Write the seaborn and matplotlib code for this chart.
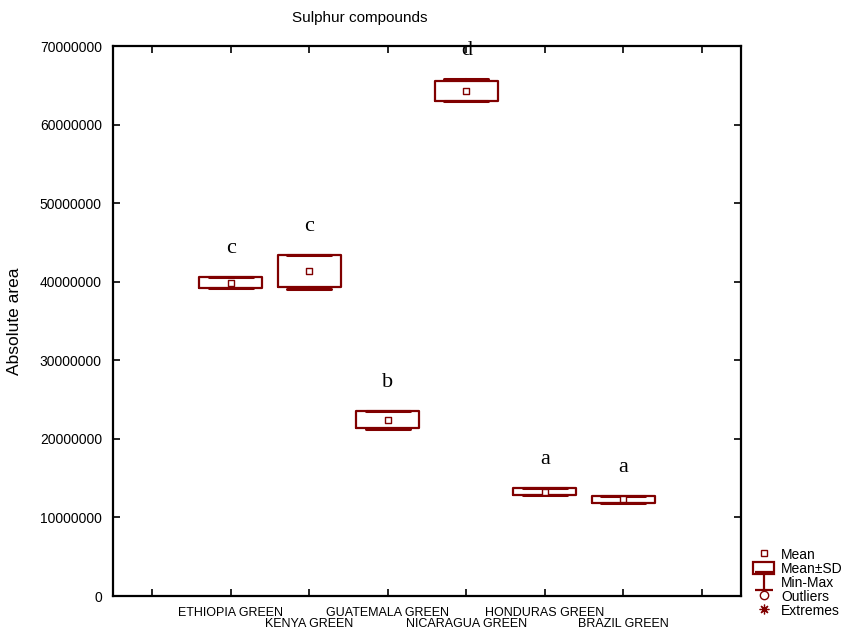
import matplotlib
matplotlib.use("Agg")
import matplotlib.pyplot as plt
import seaborn as sns
import pandas as pd
import numpy as np
from matplotlib.path import Path
from matplotlib.lines import Line2D
from matplotlib.patches import Patch
from matplotlib.ticker import FixedLocator, FixedFormatter, StrMethodFormatter

categories = ["ETHIOPIA GREEN", "KENYA GREEN", "GUATEMALA GREEN",
              "NICARAGUA GREEN", "HONDURAS GREEN", "BRAZIL GREEN"]
means = [39.85e6, 41.35e6, 22.45e6, 64.25e6, 13.28e6, 12.3e6]
sds = [0.70e6, 2.05e6, 1.05e6, 1.25e6, 0.42e6, 0.40e6]
mins = [39.15e6, 39.05e6, 21.25e6, 63.0e6, 12.86e6, 11.9e6]
maxs = [40.55e6, 43.4e6, 23.5e6, 65.8e6, 13.7e6, 12.7e6]
letters = ["c", "c", "b", "d", "a", "a"]
yticks = [0, 10e6, 20e6, 30e6, 40e6, 50e6, 60e6, 70e6]

RED = "#800000"

sns.set_style("ticks")
plt.rcParams["font.family"] = ["Liberation Sans", "DejaVu Sans"]
plt.rcParams["text.color"] = "black"
plt.rcParams["xtick.color"] = "black"
plt.rcParams["ytick.color"] = "black"
plt.rcParams["axes.labelcolor"] = "black"

fig = plt.figure(figsize=(8.42, 6.29), dpi=100)
ax = fig.add_axes([113/842, 33/629, (741-113)/842, (596-46)/629])

positions = list(range(1, len(categories) + 1))
stats = []
for m, s, lo, hi in zip(means, sds, mins, maxs):
    stats.append(dict(med=m, q1=m - s, q3=m + s, whislo=lo, whishi=hi, fliers=[]))

ax.bxp(stats, positions=positions, widths=0.8, capwidths=0.56,
       showfliers=False, patch_artist=False,
       boxprops=dict(color=RED, linewidth=1.6),
       whiskerprops=dict(color=RED, linewidth=1.6),
       capprops=dict(color=RED, linewidth=2.2),
       medianprops=dict(linewidth=0))

df = pd.DataFrame({"pos": positions, "mean": means})
sns.scatterplot(data=df, x="pos", y="mean", marker="s", s=14,
                facecolor="white", edgecolor=RED, linewidth=1.0, ax=ax, zorder=5)

for p, m, s, hi, lab in zip(positions, means, sds, maxs, letters):
    top = max(m + s, hi)
    ax.text(p, top + 3.1e6, lab, ha="center", va="baseline",
            fontsize=16, family=["Liberation Serif", "DejaVu Serif"], color="black")

ax.set_xlim(-0.5, len(categories) + 1.5)
ax.set_ylim(0, 70e6)
ax.set_xlabel("")
ax.set_ylabel("")

# major ticks at every slot, first label row on odd categories
major_pos = list(range(0, len(categories) + 2))
major_lab = [""] + [c if i % 2 == 0 else "" for i, c in enumerate(categories)] + [""]
ax.xaxis.set_major_locator(FixedLocator(major_pos))
ax.xaxis.set_major_formatter(FixedFormatter(major_lab))
# second label row via minor ticks
minor_pos = [p for i, p in enumerate(positions) if i % 2 == 1]
minor_lab = [c for i, c in enumerate(categories) if i % 2 == 1]
ax.xaxis.remove_overlapping_locs = False
ax.xaxis.set_minor_locator(FixedLocator(minor_pos))
ax.xaxis.set_minor_formatter(FixedFormatter(minor_lab))

ax.set_yticks(yticks)
ax.yaxis.set_major_formatter(StrMethodFormatter("{x:.0f}"))
ax.tick_params(axis="y", labelsize=10, pad=8)
ax.tick_params(direction="in", length=5, width=1.2, top=True, right=True,
               colors="black")
ax.tick_params(axis="x", which="major", labelsize=9, pad=8)
ax.tick_params(axis="x", which="minor", labelsize=9, pad=16, length=0,
               top=False, direction="in", colors="black", labelcolor="black")
for sp in ax.spines.values():
    sp.set_visible(True)
    sp.set_linewidth(1.6)
    sp.set_color("black")

fig.text(360/842, 1 - 18/629, "Sulphur compounds", ha="center", va="center", fontsize=11)
fig.text(15/842, 1 - 321/629, "Absolute area", ha="center", va="center",
         rotation=90, fontsize=12.5)

# legend
minmax = Path([(-1, 1), (1, 1), (0, 1), (0, -1), (-1, -1), (1, -1)],
              [Path.MOVETO, Path.LINETO, Path.MOVETO, Path.LINETO, Path.MOVETO, Path.LINETO])
handles = [
    Line2D([], [], marker="s", linestyle="none", markersize=4, markerfacecolor="white",
           markeredgecolor=RED, markeredgewidth=1.0),
    Patch(facecolor="white", edgecolor=RED, linewidth=1.6),
    Line2D([], [], marker=minmax, linestyle="none", markersize=13,
           markeredgecolor=RED, markeredgewidth=1.6, color=RED),
    Line2D([], [], marker="o", linestyle="none", markersize=6, markerfacecolor="none",
           markeredgecolor=RED, markeredgewidth=1.0),
    Line2D([], [], marker=(8, 2, 0), linestyle="none", markersize=7,
           markeredgecolor=RED, markeredgewidth=0.9, color=RED),
]
labels = ["Mean", "Mean±SD", "Min-Max", "Outliers", "Extremes"]
leg = fig.legend(handles, labels, loc="lower left", bbox_to_anchor=(752/842, 10/629),
                 frameon=False, fontsize=10, labelspacing=0.0, handlelength=1.5,
                 handletextpad=0.5, borderpad=0.1, borderaxespad=0, handleheight=0.95)
for t in leg.get_texts():
    t.set_color("black")

fig.savefig("out.png", dpi=100)
